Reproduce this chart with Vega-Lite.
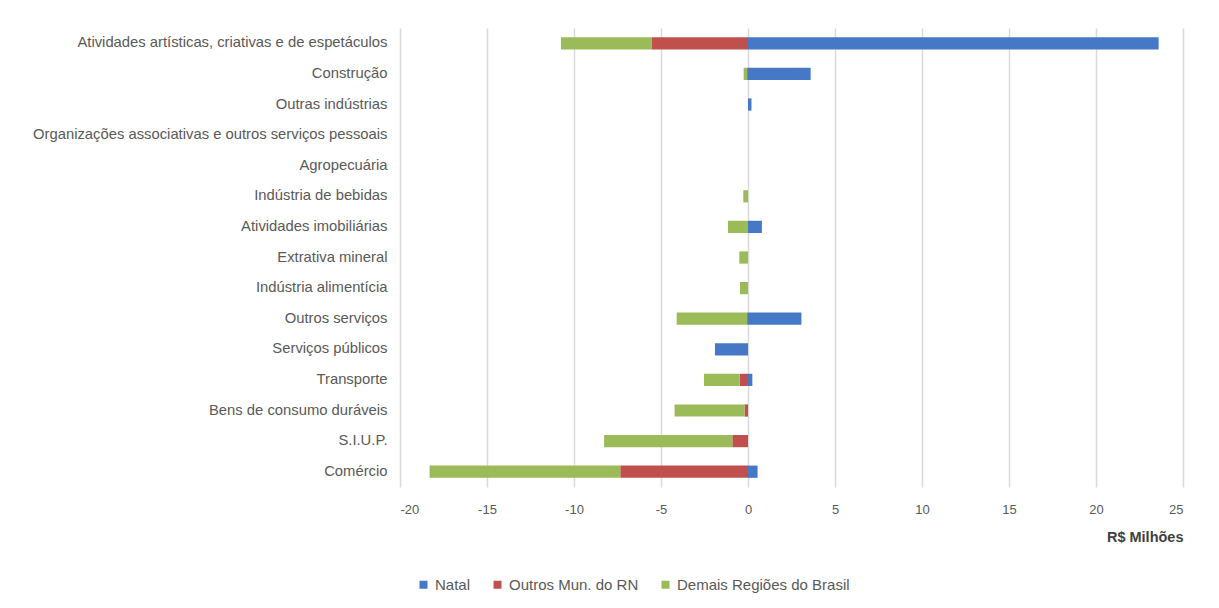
{
  "$schema": "https://vega.github.io/schema/vega-lite/v6.json",
  "autosize": {"type": "none"},
  "width": 783,
  "height": 459,
  "padding": {"left": 400, "top": 28, "right": 36, "bottom": 121},
  "background": "white",
  "config": {
    "view": {"stroke": null},
    "font": "Liberation Sans",
    "axis": {"labelColor": "#595959", "labelFontSize": 13, "titleColor": "#595959"},
    "legend": {"labelColor": "#595959", "labelFontSize": 15, "labelLimit": 400}
  },
  "data": {
    "values": [
      {"setor": "Atividades artísticas, criativas e de espetáculos", "regiao": "Natal", "valor": 23.6},
      {"setor": "Atividades artísticas, criativas e de espetáculos", "regiao": "Outros Mun. do RN", "valor": -5.55},
      {"setor": "Atividades artísticas, criativas e de espetáculos", "regiao": "Demais Regiões do Brasil", "valor": -5.2},
      {"setor": "Construção", "regiao": "Natal", "valor": 3.6},
      {"setor": "Construção", "regiao": "Outros Mun. do RN", "valor": -0.05},
      {"setor": "Construção", "regiao": "Demais Regiões do Brasil", "valor": -0.2},
      {"setor": "Outras indústrias", "regiao": "Natal", "valor": 0.2},
      {"setor": "Outras indústrias", "regiao": "Outros Mun. do RN", "valor": 0},
      {"setor": "Outras indústrias", "regiao": "Demais Regiões do Brasil", "valor": 0},
      {"setor": "Organizações associativas e outros serviços pessoais", "regiao": "Natal", "valor": 0},
      {"setor": "Organizações associativas e outros serviços pessoais", "regiao": "Outros Mun. do RN", "valor": 0},
      {"setor": "Organizações associativas e outros serviços pessoais", "regiao": "Demais Regiões do Brasil", "valor": 0},
      {"setor": "Agropecuária", "regiao": "Natal", "valor": 0},
      {"setor": "Agropecuária", "regiao": "Outros Mun. do RN", "valor": 0},
      {"setor": "Agropecuária", "regiao": "Demais Regiões do Brasil", "valor": 0},
      {"setor": "Indústria de bebidas", "regiao": "Natal", "valor": 0},
      {"setor": "Indústria de bebidas", "regiao": "Outros Mun. do RN", "valor": 0},
      {"setor": "Indústria de bebidas", "regiao": "Demais Regiões do Brasil", "valor": -0.27},
      {"setor": "Atividades imobiliárias", "regiao": "Natal", "valor": 0.8},
      {"setor": "Atividades imobiliárias", "regiao": "Outros Mun. do RN", "valor": 0},
      {"setor": "Atividades imobiliárias", "regiao": "Demais Regiões do Brasil", "valor": -1.15},
      {"setor": "Extrativa mineral", "regiao": "Natal", "valor": 0},
      {"setor": "Extrativa mineral", "regiao": "Outros Mun. do RN", "valor": 0},
      {"setor": "Extrativa mineral", "regiao": "Demais Regiões do Brasil", "valor": -0.5},
      {"setor": "Indústria alimentícia", "regiao": "Natal", "valor": 0},
      {"setor": "Indústria alimentícia", "regiao": "Outros Mun. do RN", "valor": 0},
      {"setor": "Indústria alimentícia", "regiao": "Demais Regiões do Brasil", "valor": -0.46},
      {"setor": "Outros serviços", "regiao": "Natal", "valor": 3.07},
      {"setor": "Outros serviços", "regiao": "Outros Mun. do RN", "valor": -0.05},
      {"setor": "Outros serviços", "regiao": "Demais Regiões do Brasil", "valor": -4.05},
      {"setor": "Serviços públicos", "regiao": "Natal", "valor": -1.9},
      {"setor": "Serviços públicos", "regiao": "Outros Mun. do RN", "valor": 0},
      {"setor": "Serviços públicos", "regiao": "Demais Regiões do Brasil", "valor": 0},
      {"setor": "Transporte", "regiao": "Natal", "valor": 0.25},
      {"setor": "Transporte", "regiao": "Outros Mun. do RN", "valor": -0.48},
      {"setor": "Transporte", "regiao": "Demais Regiões do Brasil", "valor": -2.05},
      {"setor": "Bens de consumo duráveis", "regiao": "Natal", "valor": 0},
      {"setor": "Bens de consumo duráveis", "regiao": "Outros Mun. do RN", "valor": -0.2},
      {"setor": "Bens de consumo duráveis", "regiao": "Demais Regiões do Brasil", "valor": -4.02},
      {"setor": "S.I.U.P.", "regiao": "Natal", "valor": 0},
      {"setor": "S.I.U.P.", "regiao": "Outros Mun. do RN", "valor": -0.9},
      {"setor": "S.I.U.P.", "regiao": "Demais Regiões do Brasil", "valor": -7.37},
      {"setor": "Comércio", "regiao": "Natal", "valor": 0.55},
      {"setor": "Comércio", "regiao": "Outros Mun. do RN", "valor": -7.34},
      {"setor": "Comércio", "regiao": "Demais Regiões do Brasil", "valor": -10.96}
    ]
  },
  "transform": [
    {"calculate": "indexof(['Natal','Outros Mun. do RN','Demais Regiões do Brasil'], datum.regiao)", "as": "ordem"}
  ],
  "mark": {"type": "bar"},
  "encoding": {
    "y": {
      "field": "setor",
      "type": "nominal",
      "sort": null,
      "scale": {"paddingInner": 0.6, "paddingOuter": 0.3},
      "axis": {"title": null, "ticks": false, "domain": false, "grid": false, "labelPadding": 13, "labelLimit": 400, "labelFontSize": 14.8}
    },
    "x": {
      "field": "valor",
      "type": "quantitative",
      "stack": "zero",
      "scale": {"domain": [-20, 25], "nice": false, "zero": false},
      "axis": {
        "values": [-20, -15, -10, -5, 0, 5, 10, 15, 20, 25],
        "labelExpr": "datum.value < 0 ? '-' + (-datum.value) : '' + datum.value",
        "title": "R$ Milhões",
        "titleAnchor": "end",
        "titleFontWeight": "bold",
        "titleFontSize": 14.5,
        "titleColor": "#404040",
        "titlePadding": 14,
        "ticks": false,
        "domain": false,
        "grid": true,
        "gridColor": "#d9d9d9",
        "gridWidth": 1.5,
        "labelPadding": 16
      }
    },
    "color": {
      "field": "regiao",
      "type": "nominal",
      "scale": {
        "domain": ["Natal", "Outros Mun. do RN", "Demais Regiões do Brasil"],
        "range": ["#4579C5", "#C0504D", "#9BBB59"]
      },
      "legend": {
        "title": null,
        "orient": "none",
        "direction": "horizontal",
        "legendX": 16,
        "legendY": 549,
        "symbolType": "square",
        "symbolSize": 64,
        "symbolStrokeWidth": 0,
        "labelOffset": 4,
        "columnPadding": 19,
        "labelLimit": 400
      }
    },
    "order": {"field": "ordem", "type": "quantitative"}
  }
}
